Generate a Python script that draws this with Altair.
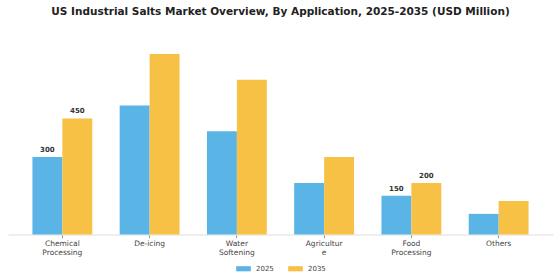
import json
import altair as alt
import pandas as pd

categories = ["Chemical Processing", "De-icing", "Water Softening", "Agriculture", "Food Processing", "Others"]
tick_labels = [["Chemical", "Processing"], ["De-icing"], ["Water", "Softening"], ["Agricultur", "e"], ["Food", "Processing"], ["Others"]]
years = ["2025", "2035"]
values_2025 = [300, 500, 400, 200, 150, 80]
values_2035 = [450, 700, 600, 300, 200, 130]
labeled_categories = ["Chemical Processing", "Food Processing"]
colors = ["#5AB4E6", "#F7C146"]

rows = []
for c, v1, v2 in zip(categories, values_2025, values_2035):
    for y, v in zip(years, [v1, v2]):
        rows.append({"category": c, "year": y, "value": v,
                     "label": str(v) if c in labeled_categories else ""})
df = pd.DataFrame(rows)

label_map = json.dumps(dict(zip(categories, tick_labels)))
label_expr = f"{label_map}[datum.label]"

font = "DejaVu Sans"

x = alt.X("category:N", sort=categories, title=None,
          scale=alt.Scale(paddingInner=0.314, paddingOuter=0.28),
          axis=alt.Axis(labelExpr=label_expr, labelAngle=0, labelFont=font, labelFontSize=7.5,
                        labelColor="#444444", labelLineHeight=8.8, labelPadding=2,
                        tickSize=3, tickColor="#999999", domainColor="#dddddd",
                        labelBaseline="top"))
xo = alt.XOffset("year:N", sort=years, scale=alt.Scale(paddingInner=0, paddingOuter=0))
y = alt.Y("value:Q", scale=alt.Scale(domain=[0, 750]), axis=None)

bars = alt.Chart(df).mark_bar().encode(
    x=x, xOffset=xo, y=y,
    color=alt.Color("year:N", sort=years, scale=alt.Scale(domain=years, range=colors),
                    legend=alt.Legend(title=None, orient="none", direction="horizontal",
                                      legendX=228, legendY=220,
                                      symbolType="M-1,-0.35H1V0.35H-1Z", symbolSize=215,
                                      symbolStrokeWidth=0, labelFont=font, labelFontSize=7,
                                      labelColor="#444444", labelOffset=5, columnPadding=14)),
)

text = alt.Chart(df).transform_filter("datum.label != ''").mark_text(
    baseline="bottom", dy=-4, font=font, fontSize=7, fontWeight="bold", color="#333333"
).encode(x=x, xOffset=xo, y=y, text="label:N")

chart = (bars + text).properties(
    width=545, height=193.5,
    background="white",
    title=alt.Title("US Industrial Salts Market Overview, By Application, 2025-2035 (USD Million)",
                    font=font, fontSize=10.5, fontWeight="bold", color="#222222",
                    anchor="middle", offset=24),
    autosize=alt.AutoSizeParams(type="none"),
    padding={"left": 8, "top": 41, "right": 7, "bottom": 45},
).configure_view(strokeWidth=0, stroke=None)

chart.save("out.html", embed_options={"renderer": "svg", "actions": False})
